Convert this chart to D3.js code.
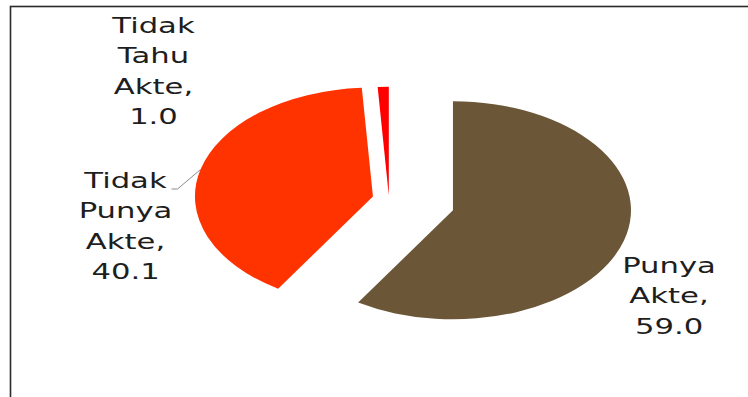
<!DOCTYPE html>
<html>
<head>
<meta charset="utf-8">
<script src="https://cdn.jsdelivr.net/npm/d3@7/dist/d3.min.js"></script>
<style>
  body { margin: 0; background: #fff; }
  svg { display: block; }
</style>
</head>
<body>
<svg id="chart"></svg>
<script>
// data
const categories = ["Punya Akte", "Tidak Punya Akte", "Tidak Tahu Akte"];
const values = [59.0, 40.1, 1.0];
const colors = ["#6b5637", "#ff3300", "#ff0000"];

// layout
const width = 748, height = 397;
const center = {x: 389, y: 199};
const rx = 178, ry = 109;           // the pie is stretched sideways
const explode = [0.374, 0.093, 0.03];
const labelPos = [[669, 273], [125.5, 188], [153.5, 33]];
const lineH = 30.5;
const textStretch = 1.46;

const svg = d3.select("#chart")
    .attr("width", width)
    .attr("height", height);

// frame (runs past the right and bottom edge)
svg.append("rect")
    .attr("x", 10.5).attr("y", 6.5)
    .attr("width", 780).attr("height", 420)
    .attr("fill", "none")
    .attr("stroke", "#2a2a2a")
    .attr("stroke-width", 1.6);

const pie = d3.pie().sort(null).value(d => d);
const arcs = pie(values);

const arc = d3.arc().innerRadius(0).outerRadius(ry);

const g = svg.append("g")
    .attr("transform", `translate(${center.x},${center.y})`);

// offset of a point on the stretched pie
function onPie(angle, k) {
    return [Math.sin(angle) * rx * k, -Math.cos(angle) * ry * k];
}

arcs.forEach((a, i) => {
    const mid = (a.startAngle + a.endAngle) / 2;
    const [dx, dy] = onPie(mid, explode[i]);
    g.append("g")
        .attr("transform", `translate(${dx},${dy}) scale(${rx / ry},1)`)
        .append("path")
        .attr("d", arc(a))
        .attr("fill", colors[i]);
});

// leader line for "Tidak Punya Akte"
{
    const i = 1, a = arcs[i];
    const mid = (a.startAngle + a.endAngle) / 2;
    const [ex, ey] = onPie(mid, explode[i]);
    const [ox, oy] = onPie(mid, 1);
    const x1 = center.x + ex + ox, y1 = center.y + ey + oy;
    const [lx, ly] = labelPos[i];
    svg.append("polyline")
        .attr("points", `${lx + 46},${ly + 1} ${lx + 52},${ly + 1} ${x1},${y1}`)
        .attr("fill", "none")
        .attr("stroke", "#8c8c8c")
        .attr("stroke-width", 1);
}

// labels
categories.forEach((c, i) => {
    const lines = c.split(" ");
    lines[lines.length - 1] += ",";
    lines.push(d3.format(".1f")(values[i]));
    const [lx, ly] = labelPos[i];
    const t = svg.append("g")
        .attr("transform", `translate(${lx},${ly}) scale(${textStretch},1)`)
        .append("text")
        .attr("text-anchor", "middle")
        .attr("font-family", "DejaVu Sans, sans-serif")
        .attr("font-size", 21)
        .attr("fill", "#1e1e1e");
    lines.forEach((l, j) => {
        t.append("tspan")
            .attr("x", 0)
            .attr("y", j * lineH)
            .text(l);
    });
});
</script>
</body>
</html>
